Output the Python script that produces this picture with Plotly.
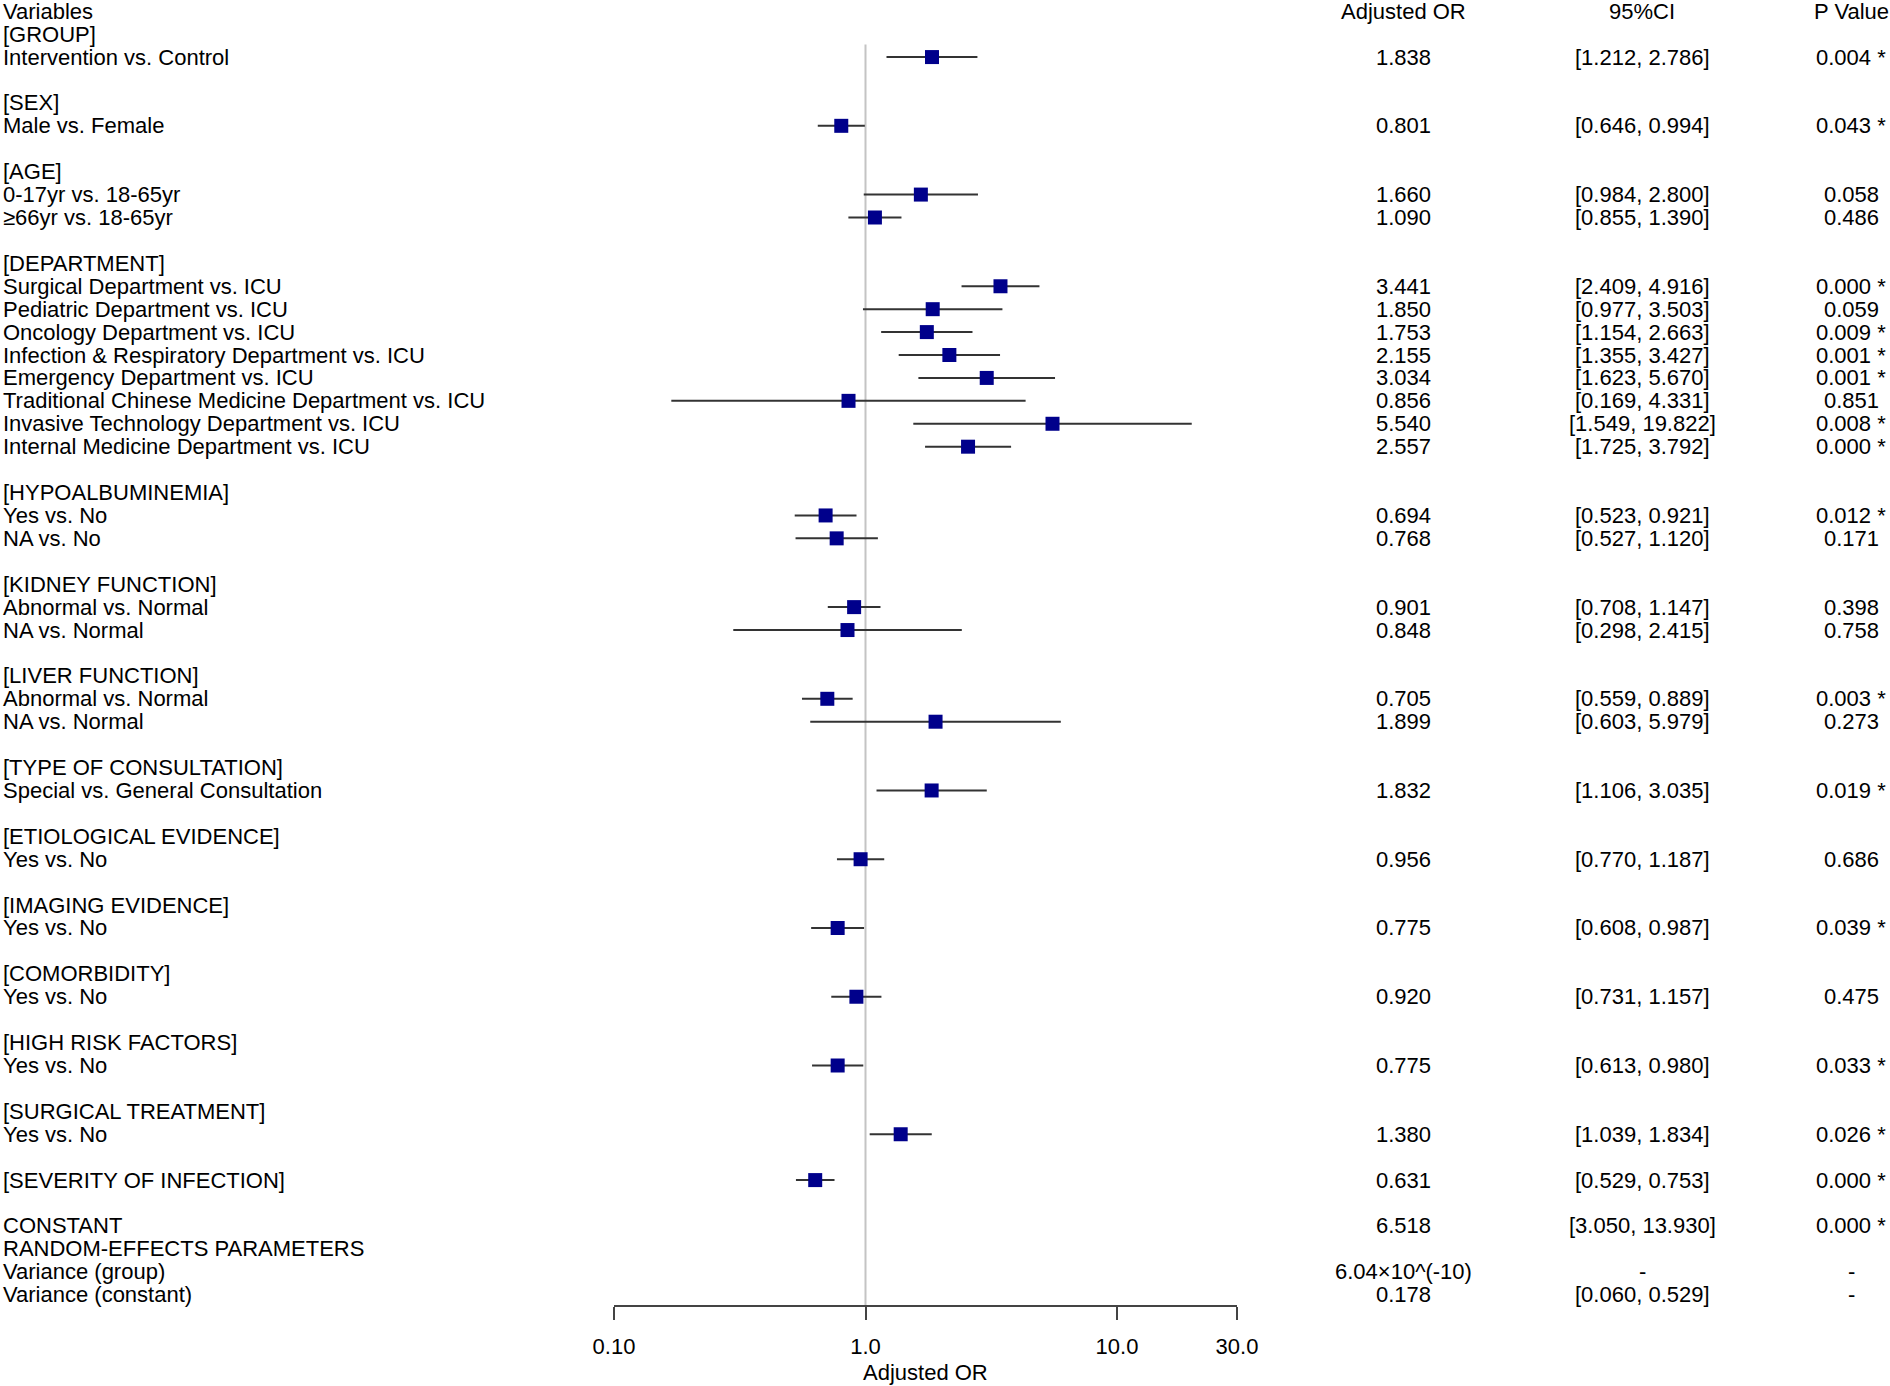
import plotly.graph_objects as go

# Filas del forest plot (de arriba hacia abajo); "" = fila vacia
labels = [
    "Variables", "[GROUP]", "Intervention vs. Control", "",
    "[SEX]", "Male vs. Female", "",
    "[AGE]", "0-17yr vs. 18-65yr", "≥66yr vs. 18-65yr", "",
    "[DEPARTMENT]", "Surgical Department vs. ICU", "Pediatric Department vs. ICU",
    "Oncology Department vs. ICU", "Infection & Respiratory Department vs. ICU",
    "Emergency Department vs. ICU", "Traditional Chinese Medicine Department vs. ICU",
    "Invasive Technology Department vs. ICU", "Internal Medicine Department vs. ICU", "",
    "[HYPOALBUMINEMIA]", "Yes vs. No", "NA vs. No", "",
    "[KIDNEY FUNCTION]", "Abnormal vs. Normal", "NA vs. Normal", "",
    "[LIVER FUNCTION]", "Abnormal vs. Normal", "NA vs. Normal", "",
    "[TYPE OF CONSULTATION]", "Special vs. General Consultation", "",
    "[ETIOLOGICAL EVIDENCE]", "Yes vs. No", "",
    "[IMAGING EVIDENCE]", "Yes vs. No", "",
    "[COMORBIDITY]", "Yes vs. No", "",
    "[HIGH RISK FACTORS]", "Yes vs. No", "",
    "[SURGICAL TREATMENT]", "Yes vs. No", "",
    "[SEVERITY OF INFECTION]", "",
    "CONSTANT", "RANDOM-EFFECTS PARAMETERS", "Variance (group)", "Variance (constant)",
]

N = None
odds = [
    N, N, 1.838, N,
    N, 0.801, N,
    N, 1.660, 1.090, N,
    N, 3.441, 1.850, 1.753, 2.155, 3.034, 0.856, 5.540, 2.557, N,
    N, 0.694, 0.768, N,
    N, 0.901, 0.848, N,
    N, 0.705, 1.899, N,
    N, 1.832, N,
    N, 0.956, N,
    N, 0.775, N,
    N, 0.920, N,
    N, 0.775, N,
    N, 1.380, N,
    0.631, N,
    6.518, N, 6.04e-10, 0.178,
]
ci_lo = [
    N, N, 1.212, N,
    N, 0.646, N,
    N, 0.984, 0.855, N,
    N, 2.409, 0.977, 1.154, 1.355, 1.623, 0.169, 1.549, 1.725, N,
    N, 0.523, 0.527, N,
    N, 0.708, 0.298, N,
    N, 0.559, 0.603, N,
    N, 1.106, N,
    N, 0.770, N,
    N, 0.608, N,
    N, 0.731, N,
    N, 0.613, N,
    N, 1.039, N,
    0.529, N,
    3.050, N, N, 0.060,
]
ci_hi = [
    N, N, 2.786, N,
    N, 0.994, N,
    N, 2.800, 1.390, N,
    N, 4.916, 3.503, 2.663, 3.427, 5.670, 4.331, 19.822, 3.792, N,
    N, 0.921, 1.120, N,
    N, 1.147, 2.415, N,
    N, 0.889, 5.979, N,
    N, 3.035, N,
    N, 1.187, N,
    N, 0.987, N,
    N, 1.157, N,
    N, 0.980, N,
    N, 1.834, N,
    0.753, N,
    13.930, N, N, 0.529,
]
p_vals = [
    N, N, 0.004, N,
    N, 0.043, N,
    N, 0.058, 0.486, N,
    N, 0.000, 0.059, 0.009, 0.001, 0.001, 0.851, 0.008, 0.000, N,
    N, 0.012, 0.171, N,
    N, 0.398, 0.758, N,
    N, 0.003, 0.273, N,
    N, 0.019, N,
    N, 0.686, N,
    N, 0.039, N,
    N, 0.475, N,
    N, 0.033, N,
    N, 0.026, N,
    0.000, N,
    0.000, N, N, N,
]

tick_vals = [0.1, 1, 10, 30]
tick_text = ["0.10", "1.0", "10.0", "30.0"]

FONT = "Liberation Sans, Arial, sans-serif"
FS = 22
cut = labels.index("CONSTANT")  # lo que sigue no se dibuja


def fmt_or(v):
    if v is None:
        return ""
    if v < 0.001:
        m, e = f"{v:.2e}".split("e")
        return f"{m}×10^({int(e)})"
    return f"{v:.3f}"


def fmt_ci(i):
    if odds[i] is None:
        return ""
    if ci_lo[i] is None:
        return "-"
    return f"[{ci_lo[i]:.3f}, {ci_hi[i]:.3f}]"


def fmt_p(i):
    if odds[i] is None:
        return ""
    if p_vals[i] is None:
        return "-"
    return f"{p_vals[i]:.3f}" + (" *" if p_vals[i] < 0.05 else "")


rows = [i for i in range(cut) if odds[i] is not None]

fig = go.Figure()

# linea de referencia en OR = 1
fig.add_trace(go.Scatter(x=[1, 1], y=[1.45, 56.45], mode="lines",
                         line=dict(color="#c4c4c4", width=2), hoverinfo="skip"))

# intervalos de confianza
xs, ys = [], []
for i in rows:
    xs += [ci_lo[i], ci_hi[i], None]
    ys += [i, i, None]
fig.add_trace(go.Scatter(x=xs, y=ys, mode="lines",
                         line=dict(color="#333333", width=2), hoverinfo="skip"))

# estimaciones puntuales
fig.add_trace(go.Scatter(x=[odds[i] for i in rows], y=rows, mode="markers",
                         marker=dict(symbol="square", size=14, color="#00008B",
                                     line=dict(width=0))))

W, H = 1890, 1386
ann = []
for i, lab in enumerate(labels):
    if lab:
        ann.append(dict(x=1 / W, y=i, text=lab, xanchor="left"))
    cols = [(1403, fmt_or(odds[i])), (1642, fmt_ci(i)), (1851, fmt_p(i))]
    for xp, t in cols:
        if t:
            ann.append(dict(x=xp / W, y=i, text=t, xanchor="center"))

for xp, t in [(1403, "Adjusted OR"), (1642, "95%CI"), (1851, "P Value")]:
    ann.append(dict(x=xp / W, y=0, text=t, xanchor="center"))

for a in ann:
    a.update(xref="paper", yref="y", yanchor="middle", showarrow=False,
             font=dict(family=FONT, size=FS, color="black"))

ann.append(dict(x=925.5 / W, y=-0.052, xref="paper", yref="paper",
                text="Adjusted OR", showarrow=False, xanchor="center",
                yanchor="middle", font=dict(family=FONT, size=FS, color="black")))

fig.update_layout(
    width=W, height=H,
    margin=dict(l=0, r=0, t=0, b=81, pad=0, autoexpand=False),
    paper_bgcolor="white", plot_bgcolor="white",
    showlegend=False,
    annotations=ann,
    font=dict(family=FONT, size=FS, color="black"),
    xaxis=dict(type="log", range=[-1, 1.4771], domain=[614 / W, 1237 / W],
               tickvals=tick_vals, ticktext=tick_text, automargin=False,
               showline=True, linecolor="#444444", linewidth=2,
               ticks="outside", ticklen=13, tickwidth=2, tickcolor="#444444",
               ticklabelstandoff=8,
               showgrid=False, zeroline=False,
               tickfont=dict(family=FONT, size=FS, color="black")),
    yaxis=dict(range=[56.45, -0.49], visible=False, showgrid=False,
               zeroline=False, automargin=False),
)

fig.write_html("out.html", config={"responsive": False, "displayModeBar": False},
               post_script="document.body.style.margin='0';")
